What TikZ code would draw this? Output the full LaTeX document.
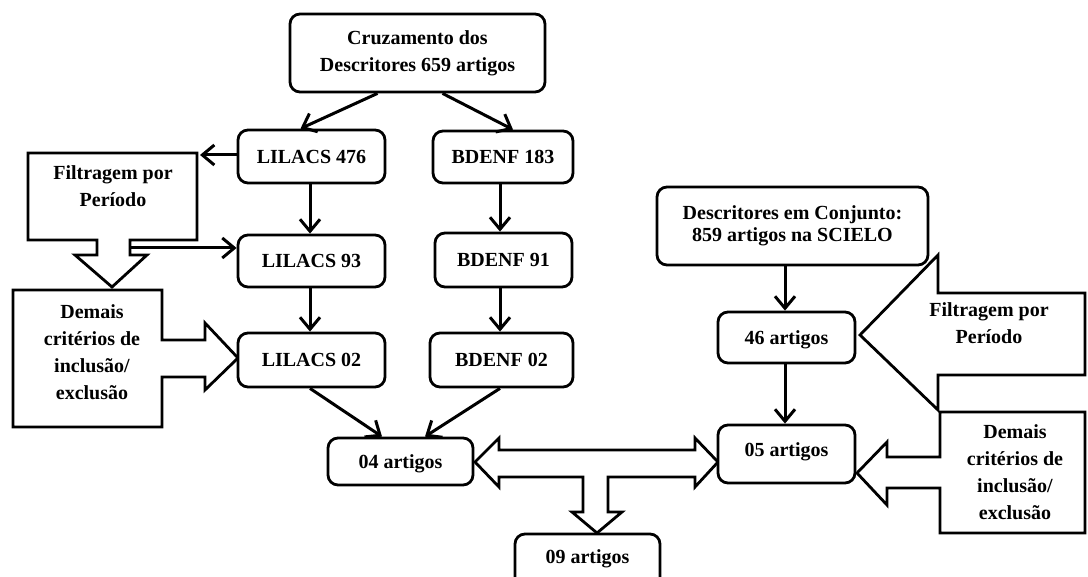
\documentclass[tikz,border=0pt]{standalone}
\usepackage{fontspec}
\setmainfont{Liberation Serif}
\usetikzlibrary{arrows.meta,calc}
\tikzset{
  box/.style={draw,line width=2.8pt,rounded corners=10pt,fill=white,inner sep=0pt,align=center,text height=13.5pt,text depth=0pt},
  shape2/.style={draw,line width=2.8pt,fill=white,line join=miter},
  conn/.style={draw,line width=3pt,-{Straight Barb[length=12pt,width=20pt,line width=3pt]}},
  lbl/.style={align=center,inner sep=0pt}
}
\begin{document}
\begin{tikzpicture}[x=1pt,y=-1pt,
  every node/.style={font=\bfseries\fontsize{20}{27}\selectfont}]
\useasboundingbox (0,0) rectangle (1088,577);
\clip (0,0) rectangle (1088,577);

% callout shapes
\draw[shape2] (28,153) -- (197,153) -- (197,240) -- (130,240) -- (130,255) -- (147,255) -- (112,287) -- (75,255) -- (97,255) -- (97,240) -- (28,240) -- cycle;
\coordinate (filtL) at (200,155);
\coordinate (filtS) at (130,248);
\draw[shape2] (13,290) -- (162,290) -- (162,340) -- (205,340) -- (205,323) -- (238,358) -- (205,390) -- (205,377) -- (162,377) -- (162,427) -- (13,427) -- cycle;
\draw[shape2] (860,335) -- (938,255) -- (938,293) -- (1085,293) -- (1085,375) -- (938,375) -- (938,410) -- cycle;
\draw[shape2] (940,412) -- (1085,412) -- (1085,533) -- (940,533) -- (940,488) -- (887,488) -- (887,505) -- (857,473) -- (887,442) -- (887,457) -- (940,457) -- cycle;
\draw[shape2] (475,462) -- (499,438) -- (499,450) -- (695,450) -- (695,438) -- (718,462) -- (695,487) -- (695,477) -- (608,477) -- (608,512) -- (622,512) -- (597,533) -- (572,512) -- (583,512) -- (583,477) -- (499,477) -- (499,487) -- cycle;

\node[lbl] (tfL) at (113,186) {Filtragem por\\Período};
\node[lbl] (tdL) at (92,352) {Demais\\critérios de\\inclusão/\\exclusão};
\node[lbl] (tfR) at (989,323) {Filtragem por\\Período};
\node[lbl] (tdR) at (1015,472) {Demais\\critérios de\\inclusão/\\exclusão};

% boxes
\node[box,minimum width=255pt,minimum height=78pt,text height=,text depth=] (cruz) at (417.5,53) {Cruzamento dos\\Descritores 659 artigos};
\node[box,minimum width=147pt,minimum height=53pt] (l476) at (311.5,156.5) {LILACS 476};
\node[box,minimum width=140pt,minimum height=52pt] (b183) at (503,157) {BDENF 183};
\node[box,minimum width=147pt,minimum height=52pt] (l93) at (311.5,261) {LILACS 93};
\node[box,minimum width=137pt,minimum height=54pt] (b91) at (503.5,260) {BDENF 91};
\node[box,minimum width=147pt,minimum height=54pt] (l02) at (311.5,360) {LILACS 02};
\node[box,minimum width=143pt,minimum height=54pt] (b02) at (501.5,360) {BDENF 02};
\node[box,minimum width=145pt,minimum height=47pt] (a04) at (400.5,461.5) {04 artigos};
\node[box,minimum width=145pt,minimum height=62pt] (a09) at (587.5,565) {\raisebox{8pt}{09 artigos}};
\node[box,minimum width=271pt,minimum height=78pt,font=\bfseries\fontsize{20}{22}\selectfont,text height=,text depth=] (desc) at (792.5,226) {Descritores em Conjunto:\\859 artigos na SCIELO};
\node[box,minimum width=137pt,minimum height=51pt] (a46) at (786.5,337.5) {46 artigos};
\node[box,minimum width=137pt,minimum height=58pt] (a05) at (786.5,454) {\raisebox{4pt}{05 artigos}};

% connectors
\draw[conn] ($(cruz.south)+(-40,0)$) -- ($(l476.north)+(-11,0)$);
\draw[conn] ($(cruz.south)+(25,0)$) -- ($(b183.north)+(10,0)$);
\draw[conn] (l476.west |- filtL) -- (filtL);
\draw[conn] (filtS) -- (l93.west |- filtS);
\draw[conn] ($(l476.south)+(-1.5,0)$) -- ($(l93.north)+(-1.5,0)$);
\draw[conn] ($(l93.south)+(-1.5,0)$) -- ($(l02.north)+(-1.5,0)$);
\draw[conn] ($(b183.south)+(-3,0)$) -- ($(b91.north)+(-3.5,0)$);
\draw[conn] ($(b91.south)+(-3.5,0)$) -- ($(b02.north)+(-1.5,0)$);
\draw[conn] ($(l02.south)+(-1.5,0)$) -- ($(a04.north)+(-18.5,0)$);
\draw[conn] ($(b02.south)+(-1.5,0)$) -- ($(a04.north)+(24.5,0)$);
\draw[conn] ($(desc.south)+(-7.5,0)$) -- ($(a46.north)+(-1.5,0)$);
\draw[conn] ($(a46.south)+(-1.5,0)$) -- ($(a05.north)+(-1.5,0)$);
\end{tikzpicture}
\end{document}
